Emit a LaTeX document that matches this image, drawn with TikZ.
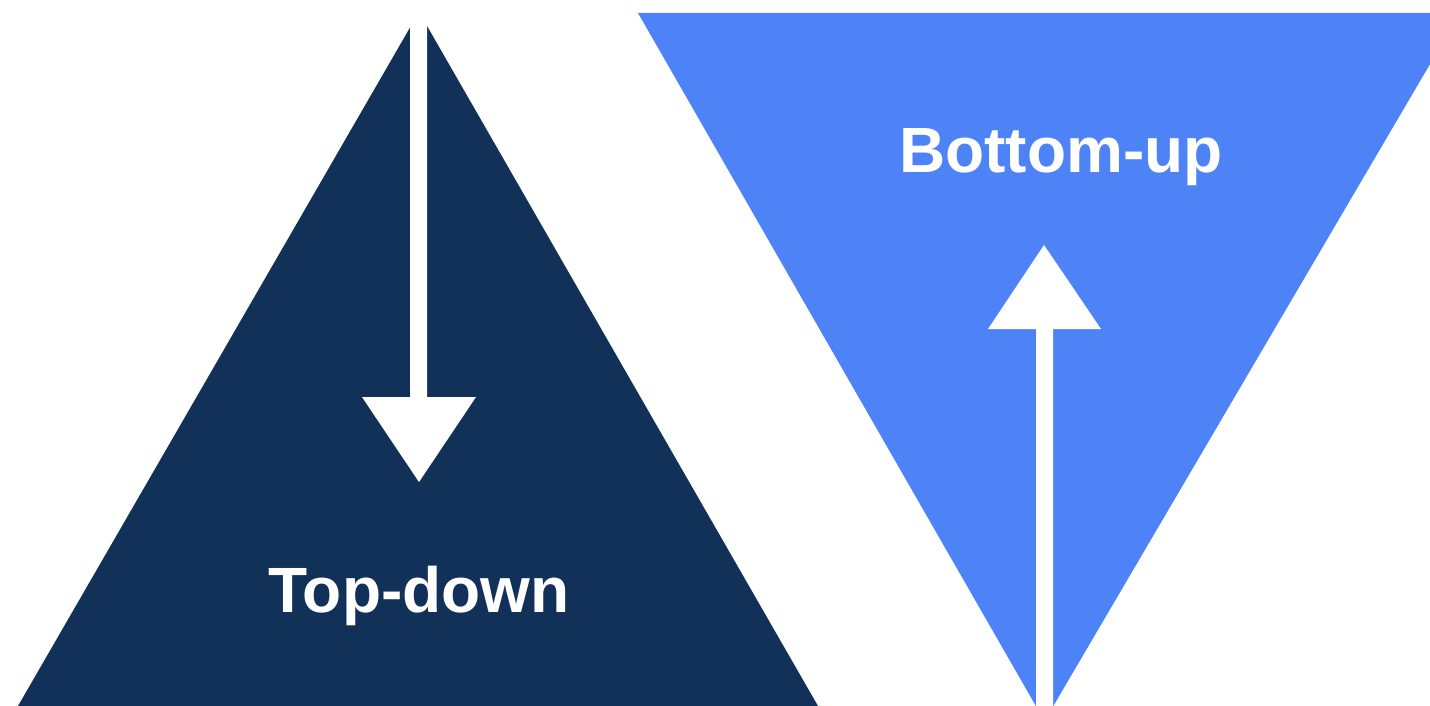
\documentclass[tikz,border=0pt]{standalone}
\usepackage{fontspec}
\setmainfont{Liberation Sans}
\usepackage{tikz}
\definecolor{navy}{HTML}{113159}
\definecolor{skyblue}{HTML}{4E83F7}
\tikzset{label text/.style={text=white,font=\fontsize{64}{64}\selectfont\bfseries,inner sep=0pt,anchor=base}}

\begin{document}
\begin{tikzpicture}[x=1pt,y=-1pt]
\useasboundingbox (0,0) rectangle (1430,706);
\clip (0,0) rectangle (1430,706);
% top-down triangle
\fill [navy] (18,706)--(419,12)--(818,706)--cycle;
\fill [white] (410,0)--(427,0)--(427,397)--(476,397)--(419,482)--(362,397)--(410,397)--cycle;
\node[label text] (td) at (419,612) {Top-down};
% bottom-up triangle
\fill [skyblue] (638,13)--(1460,13)--(1044.5,721)--cycle;
\fill [white] (1036,720)--(1053,720)--(1053,329)--(1101,329)--(1044,245)--(988,329)--(1036,329)--cycle;
\node[label text] (bu) at (1061,172) {Bottom-up};
\end{tikzpicture}
\end{document}
